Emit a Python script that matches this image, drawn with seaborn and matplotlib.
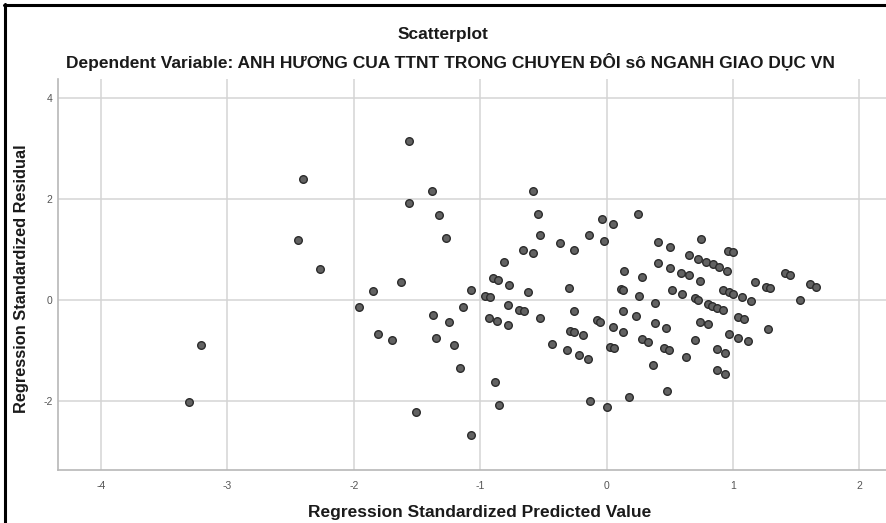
import matplotlib
matplotlib.use("Agg")
import matplotlib.pyplot as plt
import seaborn as sns
import pandas as pd
from matplotlib.lines import Line2D

sns.set_theme(style="white")
plt.rcParams['font.family'] = ['Liberation Sans', 'DejaVu Sans']

title = "Scatterplot"
subtitle = "Dependent Variable: ANH HƯƠNG CUA TTNT TRONG CHUYEN ĐÔI sô NGANH GIAO DỤC VN"
x_label = "Regression Standardized Predicted Value"
y_label = "Regression Standardized Residual"
x_ticks = [-4, -3, -2, -1, 0, 1, 2]
y_ticks = [-2, 0, 2, 4]

predicted = [
    -3.30, -3.21, -2.44, -2.40, -2.27, -1.96, -1.85, -1.81, -1.70, -1.63,
    -1.56, -1.56, -1.51, -1.38, -1.37, -1.35, -1.33, -1.27, -1.25, -1.21,
    -1.16, -1.14, -1.07, -1.07, -0.96, -0.92, -0.93, -0.90, -0.88, -0.87,
    -0.86, -0.85, -0.81, -0.78, -0.78, -0.77, -0.69, -0.66, -0.65, -0.62,
    -0.58, -0.58, -0.54, -0.53, -0.53, -0.43, -0.37, -0.31, -0.30, -0.29,
    -0.26, -0.26, -0.26, -0.22, -0.19, -0.15, -0.14, -0.13, -0.08, -0.05,
    -0.04, -0.02, 0.00, 0.03, 0.05, 0.05, 0.06,
    0.11, 0.13, 0.13, 0.13, 0.14, 0.18, 0.23, 0.25, 0.26, 0.28,
    0.28, 0.33, 0.37, 0.38, 0.38, 0.41, 0.41, 0.45, 0.47, 0.48,
    0.49, 0.50, 0.50, 0.52, 0.59, 0.60, 0.63, 0.65, 0.65, 0.70,
    0.70, 0.72, 0.72, 0.74, 0.74, 0.75, 0.79, 0.80, 0.80, 0.83,
    0.84, 0.87, 0.87, 0.87, 0.89, 0.92, 0.92, 0.94, 0.94, 0.95,
    0.96, 0.97, 0.97, 1.00, 1.00, 1.04, 1.04, 1.07, 1.09, 1.12,
    1.14, 1.17, 1.26, 1.28, 1.29, 1.41, 1.45, 1.53, 1.61, 1.66,
]
residual = [
    -2.03, -0.89, 1.19, 2.39, 0.61, -0.13, 0.17, -0.67, -0.79, 0.36,
    3.16, 1.92, -2.22, 2.16, -0.30, -0.75, 1.69, 1.22, -0.43, -0.89,
    -1.35, -0.13, 0.20, -2.68, 0.08, 0.05, -0.35, 0.44, -1.63, -0.42,
    0.39, -2.08, 0.75, -0.10, -0.50, 0.30, -0.19, 1.00, -0.22, 0.15,
    2.16, 0.93, 1.70, 1.28, -0.35, -0.87, 1.12, -0.99, 0.23, -0.61,
    1.00, -0.22, -0.63, -1.09, -0.70, -1.16, 1.28, -2.00, -0.40, -0.44,
    1.60, 1.16, -2.13, -0.93, 1.50, -0.54, -0.96,
    0.22, 0.19, -0.21, -0.63, 0.58, -1.92, -0.31, 1.71, 0.07, 0.46,
    -0.78, -0.83, -1.28, -0.05, -0.46, 1.14, 0.73, -0.95, -0.56, -1.80,
    -0.99, 1.05, 0.64, 0.20, 0.54, 0.12, -1.14, 0.90, 0.50, 0.03,
    -0.80, 0.82, 0.00, 0.38, -0.43, 1.20, 0.75, -0.08, -0.48, -0.11,
    0.71, -0.16, -0.98, -1.39, 0.66, 0.20, -0.20, -1.05, -1.46, 0.58,
    0.98, 0.15, -0.67, 0.95, 0.12, -0.33, -0.75, 0.06, -0.38, -0.82,
    -0.02, 0.36, 0.26, -0.58, 0.23, 0.53, 0.50, -0.01, 0.32, 0.26,
]

df = pd.DataFrame({"pred": predicted, "resid": residual})

W, H = 886, 523
fig = plt.figure(figsize=(W / 100, H / 100), dpi=100)
fig.patch.set_facecolor("white")
ax = fig.add_axes([58 / W, (H - 470) / H, (886 - 58) / W, (470 - 79) / H])

sns.scatterplot(data=df, x="pred", y="resid", ax=ax, s=30,
                color="#626262", edgecolor="#2b2b2b", linewidth=1.0, zorder=3)

ax.set_xlim(-4.34, 2.21)
ax.set_ylim(-3.37, 4.38)
ax.set_xticks(x_ticks)
ax.set_yticks(y_ticks)
ax.set_xticklabels([str(t) for t in x_ticks])
ax.set_yticklabels([str(t) for t in y_ticks])
ax.tick_params(axis="both", length=0, labelsize=7.5, labelcolor="#555555")
ax.tick_params(axis="x", pad=8)
ax.tick_params(axis="y", pad=4)
ax.grid(True, color="#d4d4d4", linewidth=1.1)
ax.set_axisbelow(True)
for side in ["top", "right"]:
    ax.spines[side].set_visible(False)
for side in ["left", "bottom"]:
    ax.spines[side].set_color("#b8b8b8")
    ax.spines[side].set_linewidth(1.2)

ax.set_xlabel("")
ax.set_ylabel("")
fig.text(480 / W, 1 - 512 / H, x_label, ha="center", va="center",
         fontsize=12.5, fontweight="bold", color="#1a1a1a")
fig.text(22 / W, 1 - 279 / H, y_label, ha="center", va="center", rotation=90,
         fontsize=11.8, fontweight="bold", color="#1a1a1a")
fig.text(443 / W, 1 - 35 / H, title, ha="center", va="center",
         fontsize=12.5, fontweight="bold", color="#1a1a1a")
fig.text(450 / W, 1 - 62 / H, subtitle, ha="center", va="center",
         fontsize=12.5, fontweight="bold", color="#1a1a1a")

fig.add_artist(Line2D([5 / W, 5 / W], [0, 1 - 4 / H], color="black", linewidth=2.2,
                      transform=fig.transFigure))
fig.add_artist(Line2D([4 / W, 1], [1 - 5 / H, 1 - 5 / H], color="black", linewidth=2.2,
                      transform=fig.transFigure))

fig.savefig("out.png", dpi=100)
